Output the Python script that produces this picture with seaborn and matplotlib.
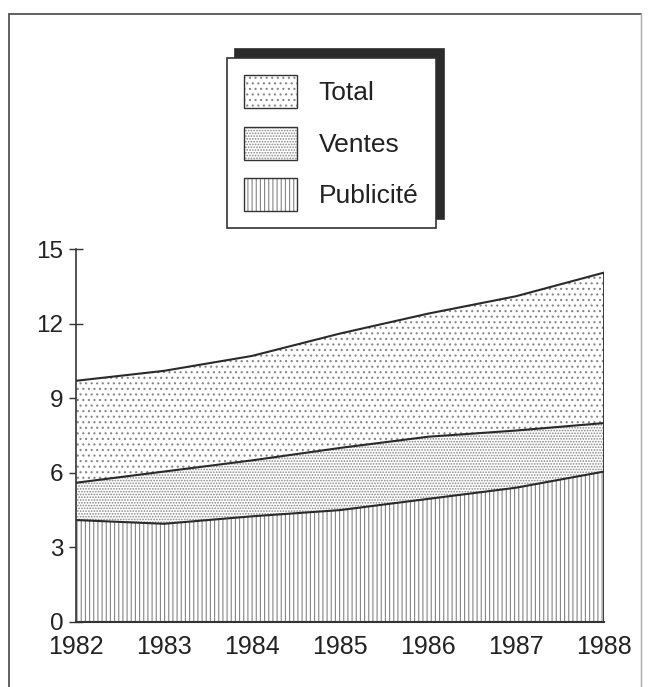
# Publicité / Ventes / Total, 1982-1988 : aires empilées hachurées
import numpy as np
import pandas as pd
import matplotlib.pyplot as plt
import seaborn as sns
from matplotlib.patches import Patch
from matplotlib.lines import Line2D
from matplotlib.colors import to_rgba

# Data (levels of each boundary)
years = [1982, 1983, 1984, 1985, 1986, 1987, 1988]
publicite = [4.1, 3.95, 4.25, 4.5, 4.95, 5.4, 6.05]
ventes = [5.6, 6.05, 6.5, 7.0, 7.45, 7.7, 8.0]
total = [9.7, 10.1, 10.7, 11.6, 12.4, 13.1, 14.05]
labels = ['Total', 'Ventes', 'Publicité']
yticks = [0, 3, 6, 9, 12, 15]

df = pd.DataFrame({'annee': years, 'Publicité': publicite,
                   'Ventes': ventes, 'Total': total})

hcol = '#858585'
sns.set_style('white')
plt.rcParams['font.family'] = ['Liberation Sans', 'DejaVu Sans']
plt.rcParams['hatch.linewidth'] = 0.8
plt.rcParams['hatch.color'] = hcol

fig = plt.figure(figsize=(6.5, 6.87), dpi=100)
ax = fig.add_axes([76/650, 1 - 622/687, 528/650, 373/687])

hatch_total = '...'
hatch_ventes = '......'
hatch_pub = '||||'

# edgecolor sets the hatch colour, lw=0 keeps the outline invisible
ax.fill_between(df['annee'], df['Ventes'], df['Total'], facecolor='white',
                edgecolor=hcol, hatch=hatch_total, linewidth=0)
ax.fill_between(df['annee'], df['Publicité'], df['Ventes'], facecolor='white',
                edgecolor=hcol, hatch=hatch_ventes, linewidth=0)
ax.fill_between(df['annee'], 0, df['Publicité'], facecolor='white',
                edgecolor=hcol, hatch=hatch_pub, linewidth=0)

for col in ['Total', 'Ventes', 'Publicité']:
    sns.lineplot(data=df, x='annee', y=col, ax=ax, color='#2a2a2a', lw=1.5)
ax.vlines(years[-1], 0, total[-1], color='#2a2a2a', lw=1.3)

ax.set_xlim(years[0], years[-1])
ax.set_ylim(0, 15)
ax.set_yticks(yticks)
ax.set_xticks(years)
ax.set_xticklabels([str(y) for y in years])
ax.set_xlabel('')
ax.set_ylabel('')
ax.tick_params(axis='y', direction='inout', length=10, width=1, color='#333',
               labelsize=17.5, pad=4, labelcolor='#222', left=True)
ax.tick_params(axis='x', length=0, labelsize=18, pad=9, labelcolor='#222')
for s in ['top', 'right']:
    ax.spines[s].set_visible(False)
ax.spines['left'].set_color('#333')
ax.spines['bottom'].set_color('#333')
ax.spines['left'].set_linewidth(1.2)
ax.spines['bottom'].set_linewidth(1.5)

handles = [Patch(facecolor='white', edgecolor='#333', hatch=h, lw=1)
           for h in [hatch_total, hatch_ventes, hatch_pub]]
leg = fig.legend(handles, labels, loc='upper left',
                 bbox_to_anchor=(227/650, 1 - 58/687), borderaxespad=0,
                 fontsize=19, handlelength=2.0, handleheight=1.55,
                 labelspacing=0.7, handletextpad=0.83, borderpad=0.65,
                 frameon=True, fancybox=False,
                 shadow={'ox': 6, 'oy': 6.5, 'color': '#2b2b2b', 'alpha': 1})
leg.get_frame().set_edgecolor('#333')
leg.get_frame().set_linewidth(1.2)
for h in leg.legend_handles:
    h._hatch_color = to_rgba(hcol)
for t in leg.get_texts():
    t.set_color('#222')

# page frame of the scanned figure
fig.add_artist(Line2D([9/650, 641/650], [1 - 14/687, 1 - 14/687], color='#555', lw=1.3))
fig.add_artist(Line2D([9/650, 9/650], [0, 1 - 14/687], color='#555', lw=1.3))
fig.add_artist(Line2D([641/650, 641/650], [0, 1 - 14/687], color='#aaa', lw=1))

fig.savefig('out.png', dpi=100)
